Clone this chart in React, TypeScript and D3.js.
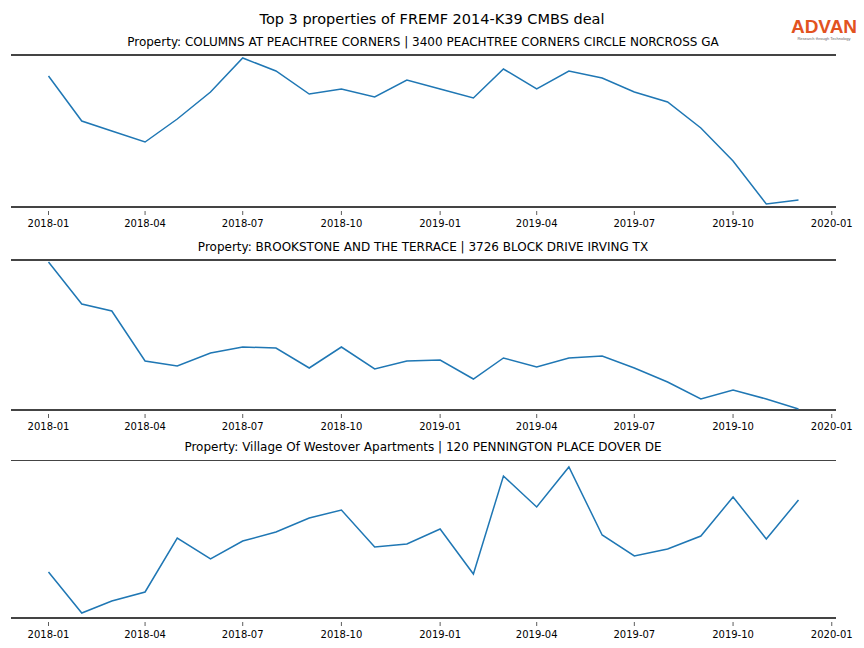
import React from 'react';
import * as d3 from 'd3';

const months = [
  '2018-01', '2018-02', '2018-03', '2018-04', '2018-05', '2018-06',
  '2018-07', '2018-08', '2018-09', '2018-10', '2018-11', '2018-12',
  '2019-01', '2019-02', '2019-03', '2019-04', '2019-05', '2019-06',
  '2019-07', '2019-08', '2019-09', '2019-10', '2019-11', '2019-12',
];

const tickLabels = [
  '2018-01', '2018-04', '2018-07', '2018-10',
  '2019-01', '2019-04', '2019-07', '2019-10', '2020-01',
];

const titles = [
  'Property: COLUMNS AT PEACHTREE CORNERS | 3400 PEACHTREE CORNERS CIRCLE NORCROSS GA',
  'Property: BROOKSTONE AND THE TERRACE | 3726 BLOCK DRIVE IRVING TX',
  'Property: Village Of Westover Apartments | 120 PENNINGTON PLACE DOVER DE',
];

// relative traffic index (no y axis shown)
const columnsValues = [
  131, 86, 76, 65, 88, 115, 149, 136, 113, 118, 110, 127,
  118, 109, 138, 118, 136, 129, 115, 105, 79, 46, 3, 7,
];
const brookstoneValues = [
  148, 106, 99, 49, 44, 57, 63, 62, 42, 63, 41, 49,
  50, 31, 52, 43, 52, 54, 42, 28, 11, 20, 11, 1,
];
const westoverValues = [
  46, 5, 17, 26, 80, 59, 77, 86, 100, 108, 71, 74,
  89, 44, 142, 111, 151, 83, 62, 69, 82, 121, 79, 118,
];

const yMax = [152, 150, 158];

const parse = d3.timeParse('%Y-%m');
const dates = months.map((m) => parse(m) as Date);

const App = () => {
  const width = 864;
  const height = 648;
  const left = 11;
  const right = 836;
  const panels = [
    { top: 55, bottom: 207, values: columnsValues, thinTop: false },
    { top: 260, bottom: 410, values: brookstoneValues, thinTop: false },
    { top: 460, bottom: 618, values: westoverValues, thinTop: true },
  ];

  // matplotlib style 5% margin on the date range
  const t0 = dates[0].getTime();
  const t1 = dates[dates.length - 1].getTime();
  const pad = (t1 - t0) * 0.05;
  const x = d3
    .scaleTime()
    .domain([new Date(t0 - pad), new Date(t1 + pad)])
    .range([left, right]);

  const ticks = tickLabels.map((t) => parse(t) as Date);
  const font = 'DejaVu Sans, sans-serif';
  const logoFont = 'Liberation Sans, Arial, sans-serif';

  return (
    <svg
      width={width}
      height={height}
      style={{ position: 'absolute', left: 0, top: 0, background: '#fff' }}
      fontFamily={font}
    >
      <text x={432} y={24} textAnchor="middle" fontSize={14.5} fill="#000">
        Top 3 properties of FREMF 2014-K39 CMBS deal
      </text>

      {/* logo */}
      <g>
        <text x={824} y={33} textAnchor="middle" fontSize={19} fontWeight={600} fill="#e2531f" fontFamily={logoFont}>
          ADVAN
        </text>
        <text x={824} y={40} textAnchor="middle" fontSize={4} fill="#666" fontFamily={logoFont}>
          Research through Technology
        </text>
      </g>

      {panels.map((p, i) => {
        const y = d3.scaleLinear().domain([0, yMax[i]]).range([p.bottom, p.top]);
        const line = d3
          .line<number>()
          .x((_, j) => x(dates[j]))
          .y((d) => y(d));
        const topY = p.thinTop ? p.top + 0.5 : p.top;
        return (
          <g key={i}>
            <text x={423} y={p.top - 9} textAnchor="middle" fontSize={12} fill="#000">
              {titles[i]}
            </text>
            <line x1={left} x2={right} y1={topY} y2={topY} stroke="#444" strokeWidth={p.thinTop ? 1 : 2} />
            <line x1={left} x2={right} y1={p.bottom} y2={p.bottom} stroke="#444" strokeWidth={2} />
            <path d={line(p.values) || ''} fill="none" stroke="#1f77b4" strokeWidth={1.5} />
            {ticks.map((t, k) => (
              <g key={k} transform={`translate(${x(t)},${p.bottom})`}>
                <line y1={4} y2={8} stroke="#333" strokeWidth={0.8} />
                <text y={20} textAnchor="middle" fontSize={10} fill="#000">
                  {tickLabels[k]}
                </text>
              </g>
            ))}
          </g>
        );
      })}
    </svg>
  );
};

export default App;
